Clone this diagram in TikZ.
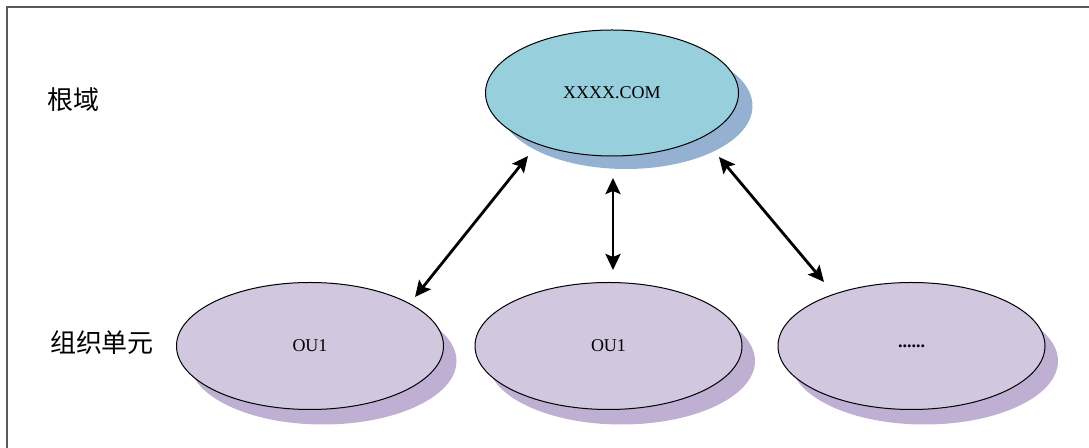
\documentclass[tikz,border=0pt]{standalone}
\usepackage{fontspec}
\setmainfont{Liberation Serif}
\newfontfamily\cjk{Noto Sans CJK SC}
\usetikzlibrary{arrows.meta, shapes.geometric, shadows}
\definecolor{domainFill}{HTML}{98CFDC}
\definecolor{domainShade}{HTML}{95B1D2}
\definecolor{unitFill}{HTML}{D1C8E0}
\definecolor{unitShade}{HTML}{BEAFD3}
\definecolor{frameGray}{HTML}{5A5A5A}

\tikzset{
  domainnode/.style={ellipse, draw, line width=0.5pt, fill=domainFill,
    minimum width=126.5pt, minimum height=63pt, inner sep=0pt,
    font=\fontsize{9}{11}\selectfont,
    drop shadow={shadow xshift=7pt, shadow yshift=-6.5pt, fill=domainShade, opacity=1}},
  unitnode/.style={ellipse, draw, line width=0.5pt, fill=unitFill,
    minimum width=133.5pt, minimum height=63.5pt, inner sep=0pt,
    font=\fontsize{9}{11}\selectfont,
    drop shadow={shadow xshift=6.5pt, shadow yshift=-7.5pt, fill=unitShade, opacity=1}},
  levellabel/.style={font=\cjk\fontsize{13}{15}\selectfont},
  linkarrow/.style={line width=1.4pt, {Stealth[length=8pt, width=7.5pt, inset=1.5pt]}-{Stealth[length=8pt, width=7.5pt, inset=1.5pt]}}
}

\begin{document}
\begin{tikzpicture}[x=0.5pt, y=-0.5pt]
  \useasboundingbox (0,0) rectangle (1089,448);
  % frame, cut off at the right and bottom
  \draw[frameGray, line width=0.8pt] (7,448) -- (7,7) -- (1089,7);

  \node[levellabel] (lblroot) at (73,100) {根域};
  \node[levellabel] (lblunit) at (102,343) {组织单元};

  \node[domainnode] (root) at (612,93) {XXXX.COM};
  \node[unitnode] (ouA) at (310,346) {OU1};
  \node[unitnode] (ouB) at (608.5,346) {OU1};
  \node[unitnode] (ouC) at (911.5,346) {\textbf{......}};

  % arrow ends sit a little off the ellipses
  \coordinate (rootA) at ([shift={(-84,63)}]root.center);
  \coordinate (rootB) at ([shift={(1,85)}]root.center);
  \coordinate (rootC) at ([shift={(107,64)}]root.center);
  \coordinate (unitA) at ([shift={(105,-49)}]ouA.center);
  \coordinate (unitB) at ([shift={(4.5,-76)}]ouB.center);
  \coordinate (unitC) at ([shift={(-87.5,-64)}]ouC.center);

  \draw[linkarrow] (unitA) -- (rootA);
  \draw[linkarrow] (unitB) -- (rootB);
  \draw[linkarrow] (unitC) -- (rootC);
\end{tikzpicture}
\end{document}
